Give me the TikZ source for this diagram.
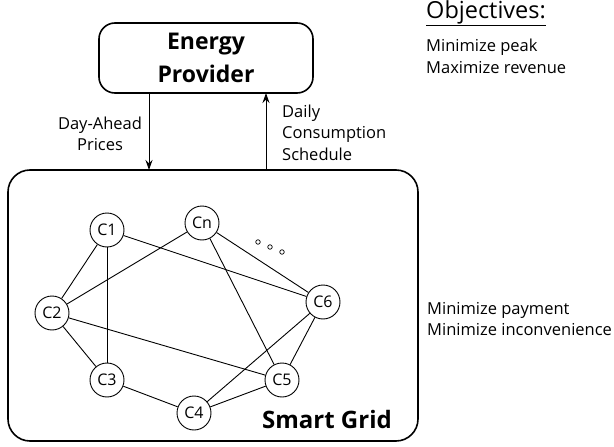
\documentclass[tikz,border=0pt]{standalone}
\usepackage{fontspec}
\setmainfont{Open Sans}
\usetikzlibrary{arrows.meta}
\begin{document}
\begin{tikzpicture}[x=1pt,y=-1pt,
  cnode/.style={draw,circle,minimum size=34pt,inner sep=0pt,line width=0.9pt,font=\fontsize{16}{18}\selectfont},
  edge/.style={line width=0.9pt},
  bigbox/.style={draw,rounded corners=16pt,line width=1.6pt},
  lbl/.style={font=\fontsize{16.5}{20}\selectfont,inner sep=0pt},
  arr/.style={line width=1pt,-{Stealth[length=10pt,width=7pt]}}]
\useasboundingbox (0,0) rectangle (614,447);
% boxes
\node[bigbox,minimum width=214pt,minimum height=70pt] (ep) at (206,58) {};
\node[font=\bfseries\fontsize{23}{26}\selectfont,inner sep=0pt,anchor=base] (ep1) at (206,49) {Energy};
\node[font=\bfseries\fontsize{23}{26}\selectfont,inner sep=0pt,anchor=base] (ep2) at (206,82) {Provider};
\node[bigbox,rounded corners=22pt,minimum width=410pt,minimum height=271pt] (sg) at (213,305.5) {};
\node[font=\bfseries\fontsize{24}{28}\selectfont,anchor=base east,inner sep=0pt] (sgl) at (392,428) {Smart Grid};
% arrows
\coordinate (dtop) at (149,93);
\coordinate (dbot) at (149,170);
\coordinate (utop) at (266,93);
\coordinate (ubot) at (266,170);
\draw[arr] (dtop) -- (dbot);
\draw[arr] (ubot) -- (utop);
\node[lbl,anchor=base] (dap1) at (100,129) {Day-Ahead};
\node[lbl,anchor=base] (dap2) at (100,150) {Prices};
\node[lbl,anchor=base west] (dcs1) at (282,117) {Daily};
\node[lbl,anchor=base west] (dcs2) at (282,138.5) {Consumption};
\node[lbl,anchor=base west] (dcs3) at (282,160) {Schedule};
% objectives
\node[font=\fontsize{23.5}{26}\selectfont,anchor=base west,inner sep=0pt] (objt) at (426,18) {\underline{Objectives:}};
\node[lbl,anchor=base west] (o1) at (426,52) {Minimize peak};
\node[lbl,anchor=base west] (o2) at (426,73) {Maximize revenue};
\node[lbl,anchor=base west] (o3) at (427,314) {Minimize payment};
\node[lbl,anchor=base west] (o4) at (427,335) {Minimize inconvenience};
% graph nodes
\node[cnode] (c1) at (107,230) {C1};
\node[cnode] (cn) at (202,223) {Cn};
\node[cnode] (c2) at (52,313) {C2};
\node[cnode] (c6) at (323,302) {C6};
\node[cnode] (c3) at (107,380) {C3};
\node[cnode] (c5) at (282,380) {C5};
\node[cnode] (c4) at (194,413) {C4};
\draw[edge] (c1) -- (c2);
\draw[edge] (c1) -- (c3);
\draw[edge] (c1) -- (c6);
\draw[edge] (cn) -- (c2);
\draw[edge] (cn) -- (c5);
\draw[edge] (cn) -- (c6);
\draw[edge] (c2) -- (c3);
\draw[edge] (c2) -- (c5);
\draw[edge] (c3) -- (c4);
\draw[edge] (c4) -- (c5);
\draw[edge] (c4) -- (c6);
\draw[edge] (c5) -- (c6);
% dots
\node[draw,circle,inner sep=0pt,minimum size=4.5pt,line width=0.7pt] (d1) at (258,242) {};
\node[draw,circle,inner sep=0pt,minimum size=4.5pt,line width=0.7pt] (d2) at (270,247) {};
\node[draw,circle,inner sep=0pt,minimum size=4.5pt,line width=0.7pt] (d3) at (282,252) {};
\end{tikzpicture}
\end{document}
